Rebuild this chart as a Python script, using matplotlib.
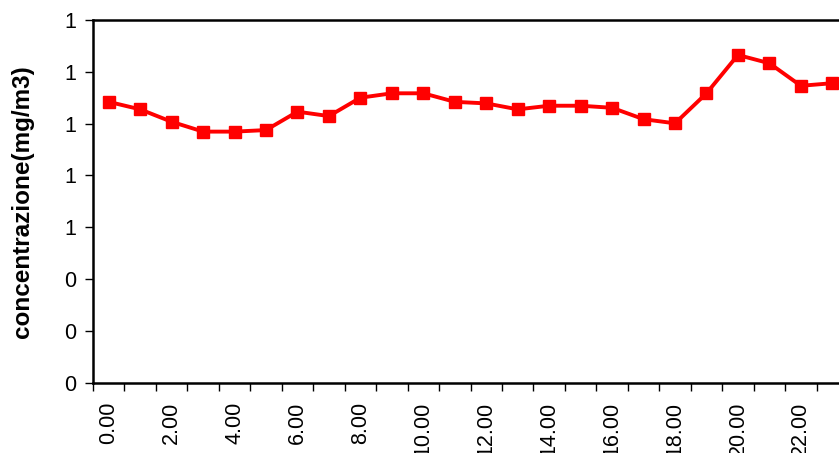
import matplotlib.pyplot as plt
from matplotlib.ticker import FormatStrFormatter

plt.rcParams['font.family'] = ['Liberation Sans', 'DejaVu Sans']

# ore del giorno e concentrazione media oraria
hours = list(range(24))
conc = [1.084, 1.055, 1.007, 0.969, 0.969, 0.975, 1.046, 1.029, 1.100, 1.117,
        1.117, 1.084, 1.078, 1.055, 1.069, 1.069, 1.061, 1.017, 1.001, 1.117,
        1.265, 1.233, 1.146, 1.156]
hour_labels = [f'{h}.00' for h in hours]

fig = plt.figure(figsize=(8.39, 4.53), dpi=100)
ax = fig.add_axes([0.1108, 0.1556, 0.9, 0.8002])

ax.plot(hours, conc, color='#ff0000', linewidth=2.8, marker='s',
        markersize=8.5, markeredgecolor='#ff0000', clip_on=False)

ax.set_xlim(-0.5, 23.5)
ax.set_ylim(0, 1.4)
ax.set_yticks([0, 0.2, 0.4, 0.6, 0.8, 1.0, 1.2, 1.4])
ax.yaxis.set_major_formatter(FormatStrFormatter('%.0f'))

# tacche sui bordi delle categorie, etichette al centro ogni 2 ore
ax.set_xticks([h - 0.5 for h in hours] + [23.5])
ax.set_xticklabels([])
ax.set_xticks(hours[::2], minor=True)
ax.set_xticklabels(hour_labels[::2], minor=True, rotation=90)
ax.tick_params(axis='x', which='minor', length=0, pad=14, labelsize=15.5)
ax.tick_params(axis='x', which='major', length=6, width=1, direction='out')
ax.tick_params(axis='y', length=6, width=1, direction='out', labelsize=15.5, pad=6)

for side in ax.spines.values():
    side.set_linewidth(1.8)
    side.set_color('black')

ax.set_ylabel('concentrazione(mg/m3)', fontsize=17.5, fontweight='bold', labelpad=22)

plt.savefig('out.png', dpi=100)
